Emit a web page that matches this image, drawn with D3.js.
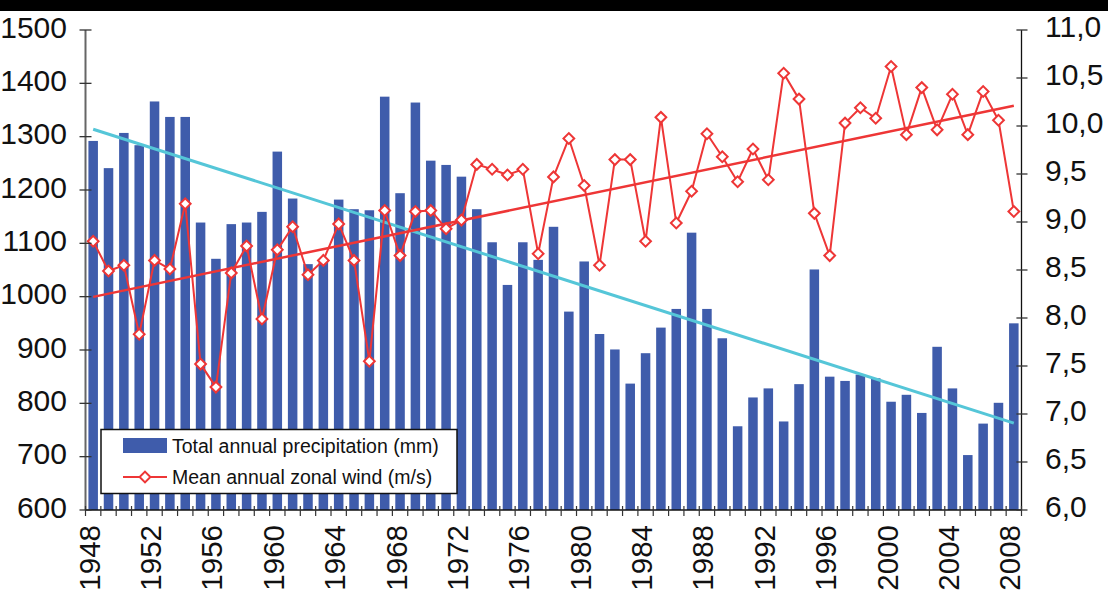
<!DOCTYPE html>
<html>
<head>
<meta charset="utf-8">
<script src="https://cdn.jsdelivr.net/npm/d3@7"></script>
<style>
  html, body { margin: 0; padding: 0; background: #fff; }
  svg { display: block; }
  text { font-family: "Liberation Sans", Arial, Helvetica, sans-serif; fill: #111; }
</style>
</head>
<body>
<svg id="chart" width="1108" height="591"></svg>
<script>
// Years on the category axis
const years = [1948, 1949, 1950, 1951, 1952, 1953, 1954, 1955, 1956, 1957,
               1958, 1959, 1960, 1961, 1962, 1963, 1964, 1965, 1966, 1967,
               1968, 1969, 1970, 1971, 1972, 1973, 1974, 1975, 1976, 1977,
               1978, 1979, 1980, 1981, 1982, 1983, 1984, 1985, 1986, 1987,
               1988, 1989, 1990, 1991, 1992, 1993, 1994, 1995, 1996, 1997,
               1998, 1999, 2000, 2001, 2002, 2003, 2004, 2005, 2006, 2007,
               2008];

// Total annual precipitation (mm)
const precipitation = [1292, 1241, 1307, 1284, 1366, 1337, 1337, 1139, 1071, 1136,
                       1139, 1159, 1272, 1184, 1061, 1068, 1182, 1164, 1162, 1375,
                       1194, 1364, 1255, 1247, 1225, 1164, 1102, 1022, 1102, 1069,
                       1131,  972, 1066,  930,  901,  837,  894,  942,  977, 1120,
                        977,  922,  757,  811,  828,  766,  836, 1051,  850,  842,
                        854,  847,  803,  816,  782,  906,  828,  703,  762,  801,
                        950];

// Mean annual zonal wind (m/s)
const zonalWind = [8.80, 8.49, 8.55, 7.83, 8.60, 8.51, 9.19, 7.52, 7.28, 8.47,
                   8.75, 7.99, 8.71, 8.95, 8.45, 8.60, 8.98, 8.60, 7.55, 9.12,
                   8.65, 9.11, 9.12, 8.93, 9.02, 9.60, 9.55, 9.49, 9.55, 8.67,
                   9.47, 9.87, 9.38, 8.55, 9.65, 9.65, 8.80, 10.09, 8.99, 9.32,
                   9.92, 9.68, 9.42, 9.76, 9.44, 10.55, 10.28, 9.09, 8.65, 10.03,
                   10.19, 10.08, 10.62, 9.91, 10.40, 9.96, 10.33, 9.91, 10.36, 10.06,
                   9.11];

// Linear trends: values at the first and last year
const trendYears = [1948, 2008];
const precipTrend = [1314, 763];
const windTrend = [8.22, 10.21];

// Tick values and labels
const precipTicks = [600, 700, 800, 900, 1000, 1100, 1200, 1300, 1400, 1500];
const windTicks = [6.0, 6.5, 7.0, 7.5, 8.0, 8.5, 9.0, 9.5, 10.0, 10.5, 11.0];
const windTickLabels = ["6,0", "6,5", "7,0", "7,5", "8,0", "8,5", "9,0", "9,5", "10,0", "10,5", "11,0"];
const yearLabels = [1948, 1952, 1956, 1960, 1964, 1968, 1972, 1976, 1980, 1984, 1988, 1992, 1996, 2000, 2004, 2008];

const legendLabels = ["Total annual precipitation (mm)", "Mean annual zonal wind (m/s)"];

const BAR = "#3f5cab";
const RED = "#ee3636";
const CYAN = "#55c6d8";

const svg = d3.select("#chart");
const W = 1108, H = 591;
const plot = { left: 85.5, right: 1021.5, top: 30, bottom: 510 };

svg.append("rect").attr("width", W).attr("height", H).attr("fill", "#fff");
svg.append("rect").attr("x", 0).attr("y", 0).attr("width", W).attr("height", 11).attr("fill", "#000");

const x = d3.scaleBand().domain(years).range([plot.left, plot.right]).paddingInner(0.38).paddingOuter(0.19);
const xc = d => x(d) + x.bandwidth() / 2;
const yP = d3.scaleLinear().domain([600, 1500]).range([plot.bottom, plot.top]);
const yW = d3.scaleLinear().domain([6, 11]).range([plot.bottom, plot.top]);

// Precipitation bars
svg.append("g").selectAll("rect").data(years).join("rect")
  .attr("x", d => x(d))
  .attr("width", x.bandwidth())
  .attr("y", (d, i) => yP(precipitation[i]))
  .attr("height", (d, i) => yP(600) - yP(precipitation[i]))
  .attr("fill", BAR);

// Precipitation trend
svg.append("line")
  .attr("x1", xc(trendYears[0])).attr("y1", yP(precipTrend[0]))
  .attr("x2", xc(trendYears[1])).attr("y2", yP(precipTrend[1]))
  .attr("stroke", CYAN).attr("stroke-width", 3);

// Wind series
const windLine = d3.line().x((d, i) => xc(years[i])).y(d => yW(d));
svg.append("path").datum(zonalWind)
  .attr("d", windLine)
  .attr("fill", "none").attr("stroke", RED).attr("stroke-width", 2).attr("stroke-linejoin", "round");

// Wind trend
svg.append("line")
  .attr("x1", xc(trendYears[0])).attr("y1", yW(windTrend[0]))
  .attr("x2", xc(trendYears[1])).attr("y2", yW(windTrend[1]))
  .attr("stroke", RED).attr("stroke-width", 2.5);

// Diamond markers
const diamond = d3.symbol().type(d3.symbolSquare).size(58)();
svg.append("g").selectAll("path").data(zonalWind).join("path")
  .attr("d", diamond)
  .attr("transform", (d, i) => `translate(${xc(years[i])},${yW(d)}) rotate(45)`)
  .attr("fill", "#fff").attr("stroke", RED).attr("stroke-width", 2);

// Axes
const axes = svg.append("g");
axes.append("line").attr("x1", plot.left).attr("x2", plot.left)
  .attr("y1", plot.top).attr("y2", plot.bottom).attr("stroke", "#666").attr("stroke-width", 2);
axes.append("line").attr("x1", plot.right).attr("x2", plot.right)
  .attr("y1", plot.top).attr("y2", plot.bottom).attr("stroke", "#111").attr("stroke-width", 1.3);
axes.append("line").attr("x1", plot.left).attr("x2", plot.right)
  .attr("y1", plot.bottom).attr("y2", plot.bottom).attr("stroke", "#111").attr("stroke-width", 1.5);

// Left axis ticks and labels
axes.selectAll(".lt").data(precipTicks).join("line")
  .attr("x1", plot.left - 6).attr("x2", plot.left + 6)
  .attr("y1", d => yP(d)).attr("y2", d => yP(d))
  .attr("stroke", "#333").attr("stroke-width", 1.3);
axes.selectAll(".ll").data(precipTicks).join("text")
  .attr("x", 67).attr("y", d => yP(d)).attr("dy", "0.26em")
  .attr("text-anchor", "end").attr("font-size", 30)
  .text(d => d);

// Right axis ticks and labels
axes.selectAll(".rt").data(windTicks).join("line")
  .attr("x1", plot.right - 5).attr("x2", plot.right + 6)
  .attr("y1", d => yW(d)).attr("y2", d => yW(d))
  .attr("stroke", "#333").attr("stroke-width", 1.3);
axes.selectAll(".rl").data(windTicks).join("text")
  .attr("x", 1045).attr("y", d => yW(d)).attr("dy", "0.24em")
  .attr("text-anchor", "start").attr("font-size", 30)
  .text((d, i) => windTickLabels[i]);

// Bottom category ticks between years
const boundaries = years.map(d => x(d) - x.step() * x.paddingInner() / 2).concat([plot.right]);
axes.selectAll(".bt").data(boundaries).join("line")
  .attr("x1", d => d).attr("x2", d => d)
  .attr("y1", plot.bottom - 4).attr("y2", plot.bottom + 6)
  .attr("stroke", "#333").attr("stroke-width", 1.2);

// Year labels, rotated
axes.selectAll(".yl").data(yearLabels).join("text")
  .attr("transform", d => `translate(${xc(d) + 6.5},525) rotate(-90)`)
  .attr("text-anchor", "end").attr("font-size", 29.5)
  .text(d => d);

// Legend
const lg = svg.append("g");
lg.append("rect").attr("x", 101).attr("y", 429.5).attr("width", 356).attr("height", 64)
  .attr("fill", "#fff").attr("stroke", "#111").attr("stroke-width", 1.5);
lg.append("rect").attr("x", 123).attr("y", 438).attr("width", 44).attr("height", 15).attr("fill", BAR);
lg.append("line").attr("x1", 123).attr("x2", 167).attr("y1", 477).attr("y2", 477)
  .attr("stroke", RED).attr("stroke-width", 2);
lg.append("path").attr("d", diamond).attr("transform", "translate(145,477) rotate(45)")
  .attr("fill", "#fff").attr("stroke", RED).attr("stroke-width", 2);
lg.selectAll(".lgt").data(legendLabels).join("text")
  .attr("x", 172).attr("y", (d, i) => 452.5 + i * 31)
  .attr("font-size", 19.5)
  .text(d => d);
</script>
</body>
</html>
